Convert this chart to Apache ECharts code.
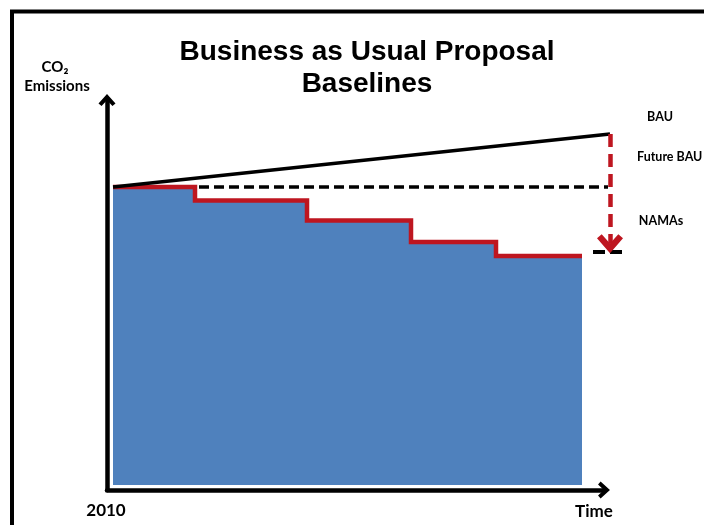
<!DOCTYPE html>
<html>
<head>
<meta charset="utf-8">
<script src="https://cdn.jsdelivr.net/npm/echarts@6/dist/echarts.min.js"></script>
<style>
  html, body { margin: 0; padding: 0; background: #ffffff; }
  #chart { width: 704px; height: 525px; }
</style>
</head>
<body>
<div id="chart"></div>
<script>
// Time positions (arbitrary units; the fill starts at 2010)
const stepTimes = [1.2, 17.6, 40.0, 60.8, 77.8, 95.0];
// Emission levels of the stepped proposal baseline
const stepLevels = [74.5, 71.1, 66.1, 60.75, 57.25, 57.25];
// Business-as-usual trend
const bauTimes = [1.2, 100.6];
const bauLevels = [74.5, 87.75];
// 2010 level carried forward (future BAU)
const futureTimes = [18.4, 100.2];
const futureLevels = [74.5, 74.5];
// NAMAs target level
const namasTimes = [97.2, 103.0];
const namasLevels = [58.25, 58.25];
// Reduction arrow from BAU down to the NAMAs level
const arrowTimes = [100.6, 100.6];
const arrowLevels = [87.75, 60.3];
// Text
const titleLines = ['Business as Usual Proposal', 'Baselines'];
const xLabels = ['2010', 'Time'];
const yLabels = ['CO\u2082', 'Emissions'];
const sideLabels = ['BAU', 'Future BAU', 'NAMAs'];

const pairs = (xs, ys) => xs.map((x, i) => [x, ys[i]]);

// open chevron, pointing up in its own frame
const chevron = 'path://M0,11 L10,0 L20,11 L16.4,14 L10,7.2 L3.6,14 Z';

const RED = '#BE1620';
const BLUE = '#4F81BD';
const labelFont = 'Lato, "Open Sans", sans-serif';

const chart = echarts.init(document.getElementById('chart'), null, { renderer: 'canvas' });

// visible axes with arrow ends
const shownAxis = {
  type: 'value',
  gridIndex: 0,
  axisLine: {
    show: true,
    onZero: false,
    symbol: ['none', chevron],
    symbolSize: [17, 12],
    lineStyle: { color: '#000000', width: 4.5 }
  },
  axisTick: { show: false },
  axisLabel: { show: false },
  splitLine: { show: false }
};
// data axes: same scale, a little wider so the right-hand marks fit
const dataAxis = { type: 'value', gridIndex: 1, show: false, splitLine: { show: false } };

chart.setOption({
  animation: false,
  backgroundColor: '#ffffff',
  grid: [
    { left: 107, top: 100, width: 497, height: 390 },
    { left: 107, top: 100, width: 520, height: 390 }
  ],
  xAxis: [
    Object.assign({}, shownAxis, { min: 0, max: 99.4 }),
    Object.assign({}, dataAxis, { min: 0, max: 104 })
  ],
  yAxis: [
    Object.assign({}, shownAxis, { min: -1.25, max: 96.25 }),
    Object.assign({}, dataAxis, { min: -1.25, max: 96.25 })
  ],
  series: [
    {
      name: 'Proposal baseline',
      type: 'line',
      xAxisIndex: 1, yAxisIndex: 1,
      step: 'end',
      data: pairs(stepTimes, stepLevels),
      showSymbol: false,
      symbol: 'none',
      lineStyle: { color: RED, width: 4.5, join: 'miter' },
      areaStyle: { color: BLUE, opacity: 1 },
      z: 2
    },
    {
      name: 'BAU',
      type: 'line',
      xAxisIndex: 1, yAxisIndex: 1,
      data: pairs(bauTimes, bauLevels),
      symbol: 'none',
      lineStyle: { color: '#000000', width: 3.5 },
      z: 3
    },
    {
      name: 'Future BAU',
      type: 'line',
      xAxisIndex: 1, yAxisIndex: 1,
      data: pairs(futureTimes, futureLevels),
      symbol: 'none',
      lineStyle: { color: '#000000', width: 3.5, type: [10, 5] },
      z: 3
    },
    {
      name: 'NAMAs',
      type: 'line',
      xAxisIndex: 1, yAxisIndex: 1,
      data: pairs(namasTimes, namasLevels),
      symbol: 'none',
      lineStyle: { color: '#000000', width: 4, type: [12, 5] },
      z: 3
    },
    {
      name: 'Reduction',
      type: 'line',
      xAxisIndex: 1, yAxisIndex: 1,
      data: [],
      markLine: {
        silent: true,
        animation: false,
        symbol: ['none', chevron],
        symbolSize: [26, 19],
        label: { show: false },
        lineStyle: { color: RED, width: 4.5, type: [13, 7] },
        data: [[
          { coord: [arrowTimes[0], arrowLevels[0]] },
          { coord: [arrowTimes[1], arrowLevels[1]] }
        ]]
      },
      z: 4
    }
  ],
  graphic: [
    {
      type: 'polyline',
      shape: { points: [[12, 540], [12, 11.5], [720, 11.5]] },
      style: { stroke: '#000000', lineWidth: 4, fill: null },
      silent: true
    },
    {
      type: 'text', x: 367, y: 68, silent: true,
      style: {
        text: titleLines.join('\n'),
        font: 'bold 28px "Liberation Sans", Arial, sans-serif',
        lineHeight: 32, align: 'center', verticalAlign: 'middle', fill: '#000000'
      }
    },
    {
      type: 'text', x: 55, y: 67, silent: true,
      style: { text: yLabels[0], font: 'bold 15px ' + labelFont, align: 'center', verticalAlign: 'middle', fill: '#000' }
    },
    {
      type: 'text', x: 57, y: 86, silent: true,
      style: { text: yLabels[1], font: 'bold 15px ' + labelFont, align: 'center', verticalAlign: 'middle', fill: '#000' }
    },
    {
      type: 'text', x: 106, y: 511, silent: true,
      style: { text: xLabels[0], font: 'bold 17px ' + labelFont, align: 'center', verticalAlign: 'middle', fill: '#000' }
    },
    {
      type: 'text', x: 594, y: 512, silent: true,
      style: { text: xLabels[1], font: 'bold 17px ' + labelFont, align: 'center', verticalAlign: 'middle', fill: '#000' }
    },
    {
      type: 'text', x: 660, y: 117, silent: true,
      style: { text: sideLabels[0], font: 'bold 12.5px ' + labelFont, align: 'center', verticalAlign: 'middle', fill: '#000' }
    },
    {
      type: 'text', x: 637, y: 157, silent: true,
      style: { text: sideLabels[1], font: 'bold 12.5px ' + labelFont, align: 'left', verticalAlign: 'middle', fill: '#000' }
    },
    {
      type: 'text', x: 661, y: 221, silent: true,
      style: { text: sideLabels[2], font: 'bold 12.5px ' + labelFont, align: 'center', verticalAlign: 'middle', fill: '#000' }
    }
  ]
});
</script>
</body>
</html>
